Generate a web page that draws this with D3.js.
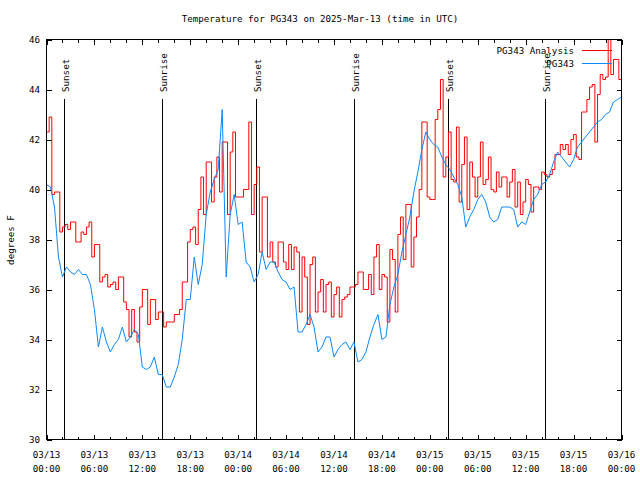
<!DOCTYPE html>
<html><head><meta charset="utf-8">
<script src="https://cdn.jsdelivr.net/npm/d3@7"></script>
<style>
body{margin:0;background:#fff}
text{font-family:"DejaVu Sans Mono","Liberation Mono",monospace;font-size:9.2px;fill:#000}
</style>
</head><body><svg id="c" width="640" height="480"></svg>
<script>
const title = "Temperature for PG343 on 2025-Mar-13 (time in UTC)";
const yLabel = "degrees F";
const seriesNames = ["PG343 Analysis", "PG343"];
const seriesColors = ["#ff0000", "#0a88ff"];
const startTime = "2025-03-13T00:00:00Z";
const endTime = "2025-03-16T00:00:00Z";
const analysisStepMinutes = 20;
const observedStepMinutes = 30;
// PG343 Analysis (red), every 20 minutes from 03/13 00:00 UTC
const analysisValues = [
42.3,42.9,39.8,39.9,39.9,38.3,38.5,38.6,38.4,38.7,38.7,37.9,37.9,38.3,38.2,38.5,38.7,37.3,37.8,37.8,
36.3,36.5,36.6,36.1,36.2,36.3,36.0,36.5,36.5,35.5,35.2,34.1,35.2,34.3,33.9,35.3,36.0,36.0,34.6,35.6,
35.6,34.8,35.1,35.1,34.5,34.7,34.7,34.7,35.0,35.0,35.2,36.3,36.3,37.9,38.4,38.5,37.8,39.2,40.5,39.0,
41.1,41.1,39.5,40.5,41.3,39.9,41.9,41.9,39.0,41.5,42.3,39.7,39.7,39.7,40.0,40.0,42.7,39.0,40.2,40.9,
37.5,39.7,39.7,37.3,37.9,37.1,36.9,37.9,37.9,37.1,36.8,37.8,36.8,37.7,37.5,35.1,37.3,36.5,34.6,37.0,
37.3,35.1,35.9,36.4,35.1,36.2,36.3,34.9,35.8,36.1,34.9,35.6,35.7,35.8,36.1,36.1,36.2,36.7,36.7,36.0,
36.0,36.6,35.8,37.3,37.8,36.0,36.6,36.5,34.7,37.6,37.2,35.1,38.2,38.9,37.2,39.4,39.4,36.9,38.1,38.9,
40.0,42.7,42.7,39.7,39.6,39.6,42.8,43.2,44.4,40.5,41.3,42.3,40.4,40.3,42.5,39.5,41.0,42.1,39.2,41.1,
40.5,39.7,40.5,41.9,40.2,40.4,41.3,40.0,39.9,40.7,40.1,40.5,40.5,39.7,40.3,40.8,39.3,40.3,39.0,39.5,
40.4,40.2,39.1,40.1,40.1,40.0,40.7,40.6,40.5,40.6,40.8,41.4,41.4,41.8,41.6,41.8,41.4,42.0,42.2,41.3,
41.2,43.1,43.1,43.6,44.1,44.2,41.9,43.8,44.6,44.4,44.5,46.1,44.6,45.2,45.2,44.4,44.4
];
// PG343 observed (blue), every 30 minutes from 03/13 00:00 UTC
const observedValues = [
40.2,40.1,39.3,37.3,36.5,36.9,36.7,36.6,36.8,36.6,36.6,36.2,35.2,33.7,34.5,33.9,33.5,33.8,34.0,34.5,
33.9,34.1,34.4,34.2,32.9,32.8,32.9,33.3,32.6,32.6,32.1,32.1,32.5,33.0,34.0,35.6,35.6,37.3,36.2,37.0,
39.0,39.9,40.4,40.8,43.2,36.5,39.0,39.8,38.6,38.7,37.1,36.9,36.3,36.6,37.5,36.8,37.1,37.1,36.7,36.4,
36.3,36.0,36.1,34.3,34.3,34.6,35.0,34.5,33.5,33.7,34.1,34.1,33.3,33.6,33.8,33.9,33.6,33.9,33.1,33.2,
33.5,34.1,34.6,35.0,34.0,34.1,35.4,36.1,36.6,37.5,38.2,38.9,39.9,40.7,41.6,42.3,42.0,41.8,41.7,41.3,
41.0,40.8,40.5,40.2,39.7,38.5,38.9,39.2,39.6,39.8,39.5,38.9,38.7,38.8,39.3,39.3,39.3,39.2,38.5,38.7,
38.6,39.1,39.6,39.8,40.2,40.3,40.6,41.1,41.5,41.3,41.1,40.9,41.2,41.7,41.9,42.1,42.3,42.5,42.7,42.8,
43.0,43.1,43.5,43.6,43.7
];
const sunsetTimes = ["2025-03-13T02:12:00Z","2025-03-14T02:13:00Z","2025-03-15T02:14:00Z"];
const sunriseTimes = ["2025-03-13T14:29:00Z","2025-03-14T14:28:00Z","2025-03-15T14:27:00Z"];
const yDomain = [30, 46];
const yTickValues = [30,32,34,36,38,40,42,44,46];

const svg = d3.select("#c");
const L = 46.5, R = 621.5, T = 39.5, B = 439.5;
const t0 = new Date(startTime), t1 = new Date(endTime);
const x = d3.scaleUtc().domain([t0, t1]).range([L, R]);
const y = d3.scaleLinear().domain(yDomain).range([B, T]);

const toSeries = (vals, step) => vals.map((v, i) => ({t: new Date(t0.getTime() + i * step * 60000), v}));
const analysis = toSeries(analysisValues, analysisStepMinutes);
const observed = toSeries(observedValues, observedStepMinutes);

svg.append("rect").attr("width",640).attr("height",480).attr("fill","#fff");

svg.append("clipPath").attr("id","clip").append("rect")
  .attr("x",L).attr("y",T).attr("width",R-L).attr("height",B-T);

const majorTicks = d3.utcHour.every(6);
const minorTicks = d3.utcHour.every(2);
function tickAxis(axisGen, tx, ty) {
  const g = svg.append("g").attr("transform",`translate(${tx},${ty})`).call(axisGen);
  g.select(".domain").remove();
  g.selectAll("text").remove();
  g.selectAll("line").attr("stroke","#000").attr("shape-rendering","crispEdges");
  return g;
}
tickAxis(d3.axisBottom(x).ticks(minorTicks).tickSize(-3), 0, B);
tickAxis(d3.axisBottom(x).ticks(majorTicks).tickSize(-5), 0, B);
tickAxis(d3.axisTop(x).ticks(minorTicks).tickSize(-3), 0, T);
tickAxis(d3.axisTop(x).ticks(majorTicks).tickSize(-5), 0, T);
tickAxis(d3.axisLeft(y).tickValues(yTickValues).tickSize(-5), L, 0);
tickAxis(d3.axisRight(y).tickValues(yTickValues).tickSize(-5), R, 0);

const fmtD = d3.utcFormat("%m/%d"), fmtT = d3.utcFormat("%H:%M");
const xl = svg.append("g");
x.ticks(majorTicks).forEach(d => {
  const tx = xl.append("text").attr("x", x(d)).attr("text-anchor","middle");
  tx.append("tspan").attr("x", x(d)).attr("y", 458).text(fmtD(d));
  tx.append("tspan").attr("x", x(d)).attr("y", 472).text(fmtT(d));
});
yTickValues.forEach(v => {
  svg.append("text").attr("x", 40).attr("y", y(v)).attr("dy","0.33em")
    .attr("text-anchor","end").text(v);
});

const sunG = svg.append("g");
function sunMarks(times, label) {
  times.forEach(s => {
    const px = Math.round(x(new Date(s))) + 0.5;
    sunG.append("line").attr("x1",px).attr("x2",px).attr("y1",98.5).attr("y2",B)
      .attr("stroke","#000").attr("shape-rendering","crispEdges");
    sunG.append("text").attr("transform",`translate(${px+1},92) rotate(-90)`)
      .attr("text-anchor","start").attr("dy","0.33em").text(label);
  });
}
sunMarks(sunsetTimes, "Sunset");
sunMarks(sunriseTimes, "Sunrise");

const lineStep = d3.line().x(d => x(d.t)).y(d => y(d.v)).curve(d3.curveStepAfter);
const lineLin = d3.line().x(d => x(d.t)).y(d => y(d.v));
const dataG = svg.append("g").attr("clip-path","url(#clip)");
dataG.append("path").datum(analysis).attr("d", lineStep).attr("fill","none")
  .attr("stroke", seriesColors[0]).attr("stroke-width",1);
dataG.append("path").datum(observed).attr("d", lineLin).attr("fill","none")
  .attr("stroke", seriesColors[1]).attr("stroke-width",1);

svg.append("rect").attr("x",L).attr("y",T).attr("width",R-L).attr("height",B-T)
  .attr("fill","none").attr("stroke","#000").attr("shape-rendering","crispEdges");

svg.append("text").attr("x",320).attr("y",22).attr("text-anchor","middle").text(title);
svg.append("text").attr("transform","translate(11,240) rotate(-90)").attr("text-anchor","middle")
  .attr("dy","0.33em").text(yLabel);

seriesNames.forEach((n, i) => {
  const ly = 50.5 + i * 13;
  svg.append("text").attr("x",574).attr("y",ly).attr("dy","0.33em").attr("text-anchor","end").text(n);
  svg.append("line").attr("x1",582).attr("x2",612).attr("y1",ly).attr("y2",ly)
    .attr("stroke",seriesColors[i]).attr("shape-rendering","crispEdges");
});
</script>
</body></html>
